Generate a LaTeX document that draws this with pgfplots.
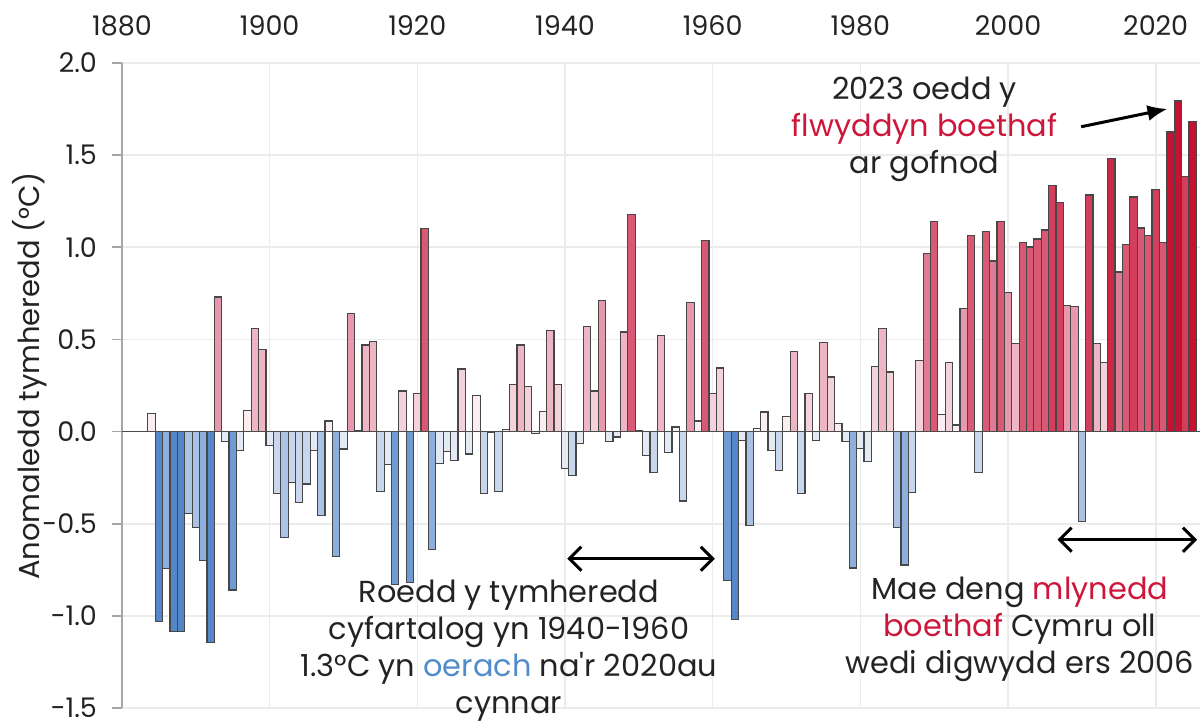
\documentclass[border=0pt]{standalone}
\usepackage{pgfplots}
\pgfplotsset{compat=1.18}
\usepackage{pgfplotstable}
\usepackage{fontspec}
\setmainfont{Poppins}
\usetikzlibrary{arrows.meta}

\definecolor{boeth}{RGB}{205,22,58}
\definecolor{oer}{RGB}{80,140,200}
\definecolor{txt}{RGB}{35,35,35}
% bins of the colour scale, cold to warm
\definecolor{n6}{RGB}{85,135,200}
\definecolor{n5}{RGB}{110,155,210}
\definecolor{n4}{RGB}{140,175,220}
\definecolor{n3}{RGB}{170,195,228}
\definecolor{n2}{RGB}{200,215,237}
\definecolor{n1}{RGB}{228,234,244}
\definecolor{p1}{RGB}{250,238,241}
\definecolor{p2}{RGB}{244,210,219}
\definecolor{p3}{RGB}{238,182,196}
\definecolor{p4}{RGB}{232,152,172}
\definecolor{p5}{RGB}{225,122,148}
\definecolor{p6}{RGB}{217,88,116}
\definecolor{p7}{RGB}{210,62,92}
\definecolor{p8}{RGB}{204,40,70}
\definecolor{p9}{RGB}{198,18,48}

\pgfplotstableread{
year val
1884 0.100
1885 -1.030
1886 -0.745
1887 -1.087
1888 -1.087
1889 -0.445
1890 -0.520
1891 -0.700
1892 -1.146
1893 0.730
1894 -0.054
1895 -0.860
1896 -0.104
1897 0.115
1898 0.560
1899 0.447
1900 -0.077
1901 -0.338
1902 -0.576
1903 -0.275
1904 -0.386
1905 -0.284
1906 -0.104
1907 -0.454
1908 0.057
1909 -0.680
1910 -0.095
1911 0.640
1912 0.006
1913 0.470
1914 0.490
1915 -0.325
1916 -0.178
1917 -0.830
1918 0.220
1919 -0.820
1920 0.205
1921 1.100
1922 -0.640
1923 -0.172
1924 -0.110
1925 -0.155
1926 0.340
1927 -0.122
1928 0.196
1929 -0.334
1930 -0.006
1931 -0.325
1932 0.010
1933 0.255
1934 0.470
1935 0.246
1936 -0.010
1937 0.108
1938 0.550
1939 0.255
1940 -0.200
1941 -0.240
1942 -0.065
1943 0.570
1944 0.220
1945 0.710
1946 -0.052
1947 -0.030
1948 0.540
1949 1.180
1950 0.005
1951 -0.130
1952 -0.220
1953 0.520
1954 -0.113
1955 0.025
1956 -0.377
1957 0.700
1958 0.057
1959 1.035
1960 0.205
1961 0.345
1962 -0.810
1963 -1.020
1964 -0.047
1965 -0.510
1966 0.018
1967 0.106
1968 -0.104
1969 -0.210
1970 0.083
1971 0.435
1972 -0.338
1973 0.205
1974 -0.047
1975 0.483
1976 0.296
1977 0.045
1978 -0.056
1979 -0.740
1980 -0.092
1981 -0.163
1982 0.354
1983 0.560
1984 0.323
1985 -0.520
1986 -0.724
1987 -0.330
1988 0.386
1989 0.968
1990 1.142
1991 0.093
1992 0.375
1993 0.036
1994 0.666
1995 1.063
1996 -0.224
1997 1.085
1998 0.925
1999 1.142
2000 0.754
2001 0.476
2002 1.024
2003 1.002
2004 1.045
2005 1.094
2006 1.336
2007 1.243
2008 0.686
2009 0.677
2010 -0.487
2011 1.284
2012 0.476
2013 0.375
2014 1.483
2015 0.866
2016 1.017
2017 1.273
2018 1.105
2019 1.063
2020 1.315
2021 1.024
2022 1.625
2023 1.794
2024 1.383
2025 1.683
}\anom

\newcommand{\apos}{\textquotesingle}

\begin{document}
\begin{tikzpicture}
\path[use as bounding box] (-61pt,-9pt) rectangle (541pt,354pt);
\begin{axis}[
    at={(0,0)}, anchor=south west,
    scale only axis,
    width=539pt, height=322.5pt,
    xmin=1880, xmax=2026,
    ymin=-1.5, ymax=2.0,
    xtick={1880,1900,...,2020},
    ytick={-1.5,-1,...,2},
    axis y line*=left, axis x line*=top,
    x axis line style={draw=none},
    y axis line style={draw=gray!70, line width=0.8pt},
    xtick style={draw=none},
    ytick style={draw=gray!70, line width=0.8pt},
    tick align=outside,
    major tick length=5pt,
    grid=major,
    grid style={gray!16, line width=0.8pt},
    /pgf/number format/assume math mode=true,
    /pgf/number format/1000 sep={},
    yticklabel={\pgfmathprintnumber[fixed,fixed zerofill,precision=1]{\tick}},
    ticklabel style={font=\fontsize{13.5}{15}\selectfont, text=txt},
    xticklabel style={yshift=5pt},
    yticklabel style={xshift=-4pt},
    ybar, bar width=1, bar shift=0pt,
    every axis plot/.append style={draw=black!72, line width=0.6pt},
    clip=false,
]
\addplot[fill=n6, restrict y to domain=-1.3:-1.0001] table[x=year,y=val] {\anom};
\addplot[fill=n5, restrict y to domain=-1.0:-0.8001] table[x=year,y=val] {\anom};
\addplot[fill=n4, restrict y to domain=-0.8:-0.6001] table[x=year,y=val] {\anom};
\addplot[fill=n3, restrict y to domain=-0.6:-0.4001] table[x=year,y=val] {\anom};
\addplot[fill=n2, restrict y to domain=-0.4:-0.2001] table[x=year,y=val] {\anom};
\addplot[fill=n1, restrict y to domain=-0.2:-0.0001] table[x=year,y=val] {\anom};
\addplot[fill=p1, restrict y to domain=0:0.1999] table[x=year,y=val] {\anom};
\addplot[fill=p2, restrict y to domain=0.2:0.3999] table[x=year,y=val] {\anom};
\addplot[fill=p3, restrict y to domain=0.4:0.5999] table[x=year,y=val] {\anom};
\addplot[fill=p4, restrict y to domain=0.6:0.7999] table[x=year,y=val] {\anom};
\addplot[fill=p5, restrict y to domain=0.8:0.9999] table[x=year,y=val] {\anom};
\addplot[fill=p6, restrict y to domain=1.0:1.1999] table[x=year,y=val] {\anom};
\addplot[fill=p7, restrict y to domain=1.2:1.3999] table[x=year,y=val] {\anom};
\addplot[fill=p8, restrict y to domain=1.4:1.5999] table[x=year,y=val] {\anom};
\addplot[fill=p9, restrict y to domain=1.6:2.0] table[x=year,y=val] {\anom};

\draw[black!70, line width=0.8pt] (axis cs:1880,0) -- (axis cs:2026,0);

% y label
\node[rotate=90, font=\fontsize{14.5}{16}\selectfont, text=txt]
    at ([xshift=-46pt]rel axis cs:0,0.515) {Anomaledd tymheredd (°C)};

% annotations
\node[align=center, font=\fontsize{15.2}{18.5}\selectfont, text=txt]
    at (axis cs:1988.7,1.64) {2023 oedd y\\\textcolor{boeth}{flwyddyn boethaf}\\ar gofnod};
\draw[-{Latex[length=10pt,width=8pt]}, line width=1.5pt, black]
    (axis cs:2009.9,1.654) -- (axis cs:2021.6,1.751);

\draw[{Straight Barb[length=6pt,width=12pt]}-{Straight Barb[length=6pt,width=12pt]}, line width=1.5pt, black]
    (axis cs:1940.3,-0.69) -- (axis cs:1960.3,-0.69);
\node[align=center, font=\fontsize{15.2}{18.5}\selectfont, text=txt]
    at (axis cs:1932.4,-1.19) {Roedd y tymheredd\\cyfartalog yn 1940-1960\\1.3°C yn \textcolor{oer}{oerach} na\apos r 2020au\\cynnar};

\draw[{Straight Barb[length=6pt,width=12pt]}-{Straight Barb[length=6pt,width=12pt]}, line width=1.5pt, black]
    (axis cs:2006.7,-0.587) -- (axis cs:2025.6,-0.587);
\node[align=center, font=\fontsize{15.2}{18.5}\selectfont, text=txt]
    at (axis cs:2001.6,-1.075) {Mae deng \textcolor{boeth}{mlynedd}\\\textcolor{boeth}{boethaf} Cymru oll\\wedi digwydd ers 2006};
\end{axis}
\end{tikzpicture}
\end{document}
